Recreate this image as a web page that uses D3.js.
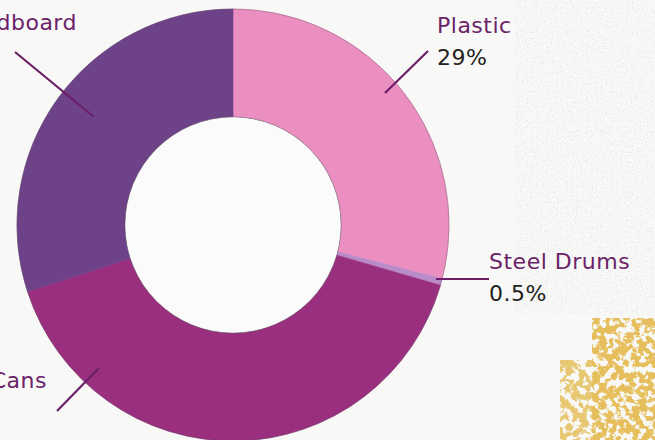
<!DOCTYPE html>
<html><head><meta charset="utf-8">
<script src="https://cdn.jsdelivr.net/npm/d3@7"></script>
<style>html,body{margin:0;padding:0;background:#f8f8f7;overflow:hidden}</style>
</head><body>
<svg id="c" width="655" height="440"></svg>
<script>
const categories = ["Plastic", "Steel Drums", "Cans", "Cardboard"];
const values = [29, 0.5, 40.5, 30];
const valueLabels = ["29%", "0.5%", "", ""];
const colors = ["#ea8fc0", "#b98bc9", "#9a2f80", "#6e4288"];

const svg = d3.select("#c");
const defs = svg.append("defs");

// background texture (decoration)
const f = defs.append("filter").attr("id","grain").attr("x",0).attr("y",0).attr("width","100%").attr("height","100%")
  .attr("color-interpolation-filters","sRGB");
f.append("feTurbulence").attr("type","fractalNoise").attr("baseFrequency",0.8).attr("numOctaves",2).attr("seed",3).attr("result","n");
f.append("feColorMatrix").attr("in","n").attr("type","matrix")
  .attr("values","0 0 0 0 0.6  0 0 0 0 0.6  0 0 0 0 0.6  -5 0 0 0 2.1");
const g2 = defs.append("filter").attr("id","gold").attr("x",0).attr("y",0).attr("width","100%").attr("height","100%")
  .attr("color-interpolation-filters","sRGB");
g2.append("feTurbulence").attr("type","fractalNoise").attr("baseFrequency",0.15).attr("numOctaves",4).attr("seed",7).attr("result","n");
g2.append("feColorMatrix").attr("in","n").attr("type","matrix")
  .attr("values","0 0 0 0 0.90  0 0 0 0 0.75  0 0 0 0 0.36  10 0 0 0 -4.2");

svg.append("rect").attr("width",655).attr("height",440).attr("fill","#f8f8f7");
svg.append("rect").attr("x",515).attr("y",0).attr("width",140).attr("height",315).attr("fill","#fff").attr("filter","url(#grain)").attr("opacity",0.22);
svg.append("rect").attr("x",592).attr("y",318).attr("width",63).attr("height",122).attr("filter","url(#gold)");
svg.append("rect").attr("x",560).attr("y",360).attr("width",40).attr("height",80).attr("filter","url(#gold)").attr("opacity",0.85);

const cx = 233, cy = 225, rOut = 216, rIn = 108;
const pie = d3.pie().sort(null).value(d => d).startAngle(0).endAngle(2*Math.PI);
const arc = d3.arc().innerRadius(rIn).outerRadius(rOut);
const arcs = pie(values);

const g = svg.append("g").attr("transform", `translate(${cx},${cy})`);
g.selectAll("path").data(arcs).join("path")
  .attr("d", arc)
  .attr("fill", (d,i) => colors[i])
  .attr("stroke", (d,i) => colors[i])
  .attr("stroke-width", 0.6);
g.append("circle").attr("r", rOut).attr("fill","none").attr("stroke","#5a4a5a").attr("stroke-width",0.6).attr("opacity",0.6);
g.append("circle").attr("r", rIn).attr("fill","#fbfbfb").attr("stroke","#5a4a5a").attr("stroke-width",0.6);
g.append("circle").attr("r", rIn-0.6).attr("fill","#fbfbfb");

// leader lines and labels
const lineColor = "#6b1f66";
const leaders = [
  {i:0, p1:[385,93], p2:[428,51], tx:437, ty:33, anchor:"start", name:["Plastic"]},
  {i:1, p1:[436,279], p2:[489,279], tx:489, ty:269, anchor:"start", name:["Steel Drums"]},
  {i:2, p1:[99,368], p2:[57,411], tx:47, ty:388, anchor:"end", name:["Cans"]},
  {i:3, p1:[94,117], p2:[15,52], tx:77, ty:30, anchor:"end", name:["Paper/","Cardboard"]}
];
const lab = svg.append("g").style("font-family","'DejaVu Sans', sans-serif").style("font-size","22px");
leaders.forEach(L => {
  lab.append("line").attr("x1",L.p1[0]).attr("y1",L.p1[1]).attr("x2",L.p2[0]).attr("y2",L.p2[1])
    .attr("stroke",lineColor).attr("stroke-width",2.2);
  const n = L.name.length;
  L.name.forEach((t,k) => {
    lab.append("text").attr("x",L.tx).attr("y",L.ty - (n-1-k)*34)
      .attr("text-anchor",L.anchor).attr("fill","#6b2268").style("letter-spacing","0.5px").text(t);
  });
  if (valueLabels[L.i]) {
    lab.append("text").attr("x",L.tx).attr("y",L.ty+32).attr("text-anchor",L.anchor)
      .attr("fill","#231f20").style("letter-spacing","0.5px").text(valueLabels[L.i]);
  }
});
</script>
</body></html>
